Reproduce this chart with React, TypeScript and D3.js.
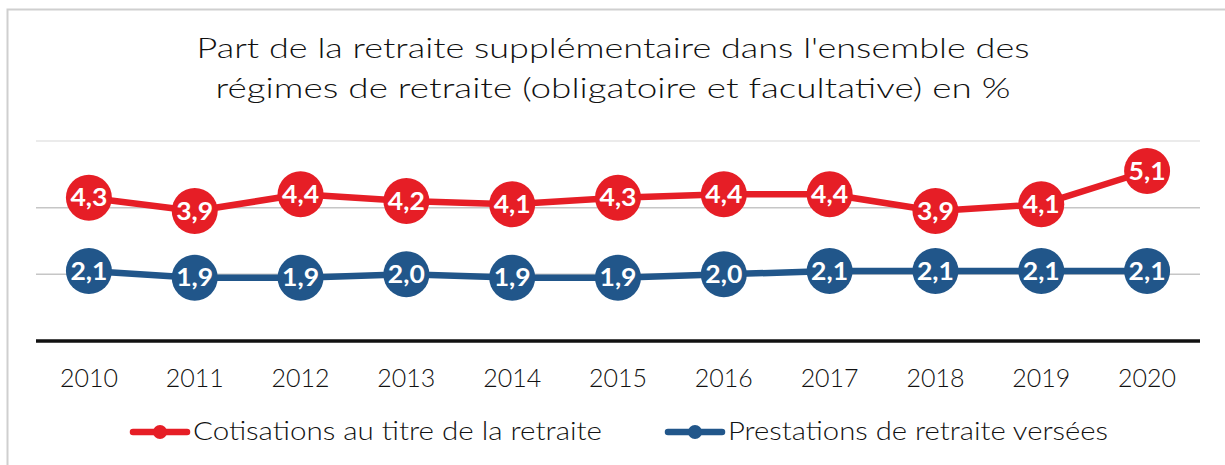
import React from "react";
import * as d3 from "d3";

const years = ["2010","2011","2012","2013","2014","2015","2016","2017","2018","2019","2020"];
const cotisations = [4.3, 3.9, 4.4, 4.2, 4.1, 4.3, 4.4, 4.4, 3.9, 4.1, 5.1];
const prestations = [2.1, 1.9, 1.9, 2.0, 1.9, 1.9, 2.0, 2.1, 2.1, 2.1, 2.1];
const gridTicks = [2, 4, 6];
const titleLines = [
  "Part de la retraite supplémentaire dans l'ensemble des",
  "régimes de retraite (obligatoire et facultative) en %",
];
const seriesNames = ["Cotisations au titre de la retraite", "Prestations de retraite versées"];

const W = 1225, H = 465;
const RED = "#E61E26";
const BLUE = "#21568A";
const FONT = "'Lato', 'Noto Sans', sans-serif";

export default function App() {
  const x = d3.scaleBand<string>().domain(years).range([36, 1200]);
  const y = d3.scaleLinear().domain([0, 6]).range([341, 141]);
  const cx = (yr: string) => (x(yr) as number) + x.bandwidth() / 2;
  const line = d3.line<number>().x((_, i) => cx(years[i])).y((d) => y(d));
  const fmt = (v: number) => v.toFixed(1).replace(".", ",");

  const series = [
    { name: seriesNames[0], values: cotisations, color: RED },
    { name: seriesNames[1], values: prestations, color: BLUE },
  ];
  const legend = [
    { x0: 133, tx: 193, tw: 409 },
    { x0: 668, tx: 728, tw: 380 },
  ];

  return (
    <svg width={W} height={H} style={{ position: "absolute", left: 0, top: 0, background: "#fff" }}>
      <rect x={7.5} y={9.5} width={1300} height={600} fill="#fff" stroke="#cfcfcf" strokeWidth={2} />
      {titleLines.map((t, i) => (
        <text key={i} x={613} y={58 + i * 40} textAnchor="middle" fontFamily={FONT} fontSize={27} fontWeight={300}
          fill="#111" textLength={i === 0 ? 833 : 795} lengthAdjust="spacingAndGlyphs">{t}</text>
      ))}
      {gridTicks.map((t) => (
        <line key={t} x1={36} x2={1200} y1={y(t)} y2={y(t)} stroke={t === 6 ? "#e4e4e4" : "#c6c6c6"} strokeWidth={1.5} />
      ))}
      <line x1={36} x2={1200} y1={y(0)} y2={y(0)} stroke="#111" strokeWidth={3.5} />
      {years.map((yr) => (
        <text key={yr} x={cx(yr)} y={387} textAnchor="middle" fontFamily={FONT} fontSize={26} fontWeight={300} fill="#111"
          textLength={58} lengthAdjust="spacingAndGlyphs">{yr}</text>
      ))}
      {series.map((s) => (
        <g key={s.name}>
          <path d={line(s.values) || ""} fill="none" stroke={s.color} strokeWidth={6.5} strokeLinejoin="round" />
          {s.values.map((v, i) => (
            <g key={i}>
              <circle cx={cx(years[i])} cy={y(v)} r={23} fill={s.color} />
              <text x={cx(years[i])} y={y(v) + 8.5} textAnchor="middle" fontFamily={FONT} fontWeight="bold"
                fontSize={24} fill="#fff" textLength={37} lengthAdjust="spacingAndGlyphs">{fmt(v)}</text>
            </g>
          ))}
        </g>
      ))}
      {series.map((s, i) => (
        <g key={"lg" + i}>
          <line x1={legend[i].x0} x2={legend[i].x0 + 54} y1={432} y2={432} stroke={s.color} strokeWidth={6.5} strokeLinecap="round" />
          <circle cx={legend[i].x0 + 27} cy={432} r={7} fill={s.color} />
          <text x={legend[i].tx} y={440} fontFamily={FONT} fontSize={25} fontWeight={300} fill="#111"
            textLength={legend[i].tw} lengthAdjust="spacingAndGlyphs">{s.name}</text>
        </g>
      ))}
    </svg>
  );
}
